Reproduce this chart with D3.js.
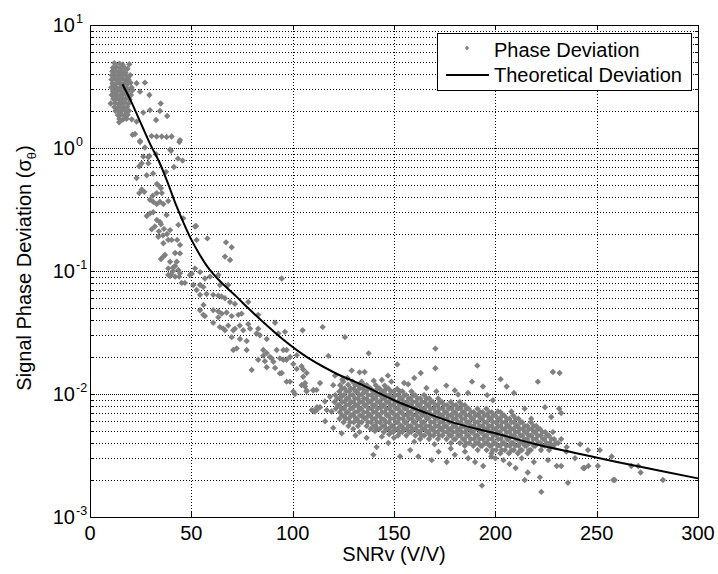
<!DOCTYPE html>
<html>
<head>
<meta charset="utf-8">
<script src="https://cdn.jsdelivr.net/npm/d3@7"></script>
<style>
body { margin: 0; background: #fff; }
text { font-family: "Liberation Sans", Arial, sans-serif; fill: #000; }
</style>
</head>
<body>
<script>

// ---- data ----
const snrTicks = [0, 50, 100, 150, 200, 250, 300];
const sigmaDecades = [1e-3, 1e-2, 1e-1, 1, 10];
const decadeExponents = ["-3", "-2", "-1", "0", "1"];

// theoretical curve
const theorySnr = [16, 20, 23, 26, 30, 34, 38, 42, 46, 50, 54, 58, 62, 67, 72, 78, 85, 95, 105, 120, 135, 150, 165, 180, 200, 220, 240, 260, 280, 300];
const theorySigma = [3.3, 2.45, 1.9, 1.47, 1.05, 0.78, 0.54, 0.36, 0.25, 0.18, 0.137, 0.108, 0.090, 0.0745, 0.0625, 0.050, 0.039, 0.028, 0.021, 0.0151, 0.0117, 0.0089, 0.0071, 0.0058, 0.0048, 0.0039, 0.0033, 0.0028, 0.0024, 0.00206];

// measured phase deviation: [SNRv, sigma]
// low-SNR clump
const headPoints = [
  [12.0,4.9],[14.6,4.85],[16.1,4.75],[19.4,4.8],
  [11.3,4.5],[13.1,4.55],[15.2,4.45],[17.0,4.5],[18.5,4.4],
  [11.0,4.2],[12.6,4.25],[14.1,4.15],[15.8,4.2],[17.5,4.1],
  [10.8,3.9],[12.2,3.95],[13.7,3.85],[15.0,3.9],[16.4,3.95],[18.0,3.85],[19.8,3.9],
  [10.6,3.6],[12.0,3.65],[13.5,3.55],[14.9,3.6],[16.2,3.65],[17.6,3.55],[19.0,3.6],
  [11.1,3.35],[12.6,3.3],[14.2,3.4],[15.6,3.3],[17.0,3.35],[18.5,3.3],[20.0,3.4],
  [10.5,3.1],[12.0,3.15],[13.4,3.05],[14.8,3.1],[16.4,3.15],[18.2,3.05],[20.5,3.1],
  [11.2,2.9],[12.8,2.85],[14.1,2.95],[15.5,2.9],[17.0,2.85],[18.8,2.9],[21.0,2.95],
  [10.7,2.7],[12.1,2.72],[13.6,2.66],[15.0,2.7],[16.6,2.74],[18.5,2.68],[20.2,2.7],
  [11.5,2.5],[13.0,2.52],[14.5,2.46],[16.0,2.5],[17.8,2.54],[19.5,2.48],
  [10.2,2.3],[12.4,2.32],[14.0,2.28],[15.5,2.3],[17.2,2.34],[19.0,2.3],
  [12.0,2.15],[13.5,2.12],[15.0,2.17],[16.6,2.14],[18.3,2.16],
  [12.6,2.0],[14.2,1.98],[15.8,2.02],[17.5,1.99],[19.2,2.01],
  [13.8,1.85],[15.4,1.87],[17.0,1.84],[18.6,1.86],
  [14.5,1.72],[16.2,1.7],[18.0,1.73],[14.4,1.62]
];

// falling tail between the clump and the dense cloud
const tailPoints = [
  [23,3.36],[27.1,3.4],[24.7,2.87],[29.3,2.7],[34.9,2.3],[34.5,2.0],[38.1,1.82],[29.6,2.03],[26.3,1.94],[32.6,1.69],
  [20.6,1.71],[23,1.64],[21,1.28],[22.2,1.3],[24.7,1.14],[30.4,1.25],[32.9,1.24],[35.4,1.24],[37.8,1.23],[40.3,1.24],
  [44.4,1.16],[27.1,1.01],[39.5,0.97],[28.8,0.84],[32.6,0.89],[43.4,0.82],[45.7,0.79],[28.8,0.75],[26.3,0.85],[24.7,1.12],
  [44.1,1.12],[29.3,0.86],[40,0.95],[25.5,0.75],[24.3,0.71],[37.5,0.64],[41.4,0.70],[28,0.6],[31.1,0.62],[23,0.57],
  [34.2,0.49],[33,0.51],[35,0.47],[25.5,0.46],[24.3,0.43],[26.8,0.44],[30.9,0.41],[32.9,0.43],[35.4,0.43],[29.6,0.38],
  [31.2,0.366],[34.5,0.366],[36.2,0.35],[32.9,0.35],[38.6,0.37],[29.6,0.294],[28,0.28],[31.2,0.3],[37.8,0.285],[33,0.26],
  [34.5,0.25],[35,0.24],[36.5,0.22],[34,0.21],[32,0.23],[30.4,0.218],[38,0.2],[39.5,0.215],[33.7,0.19],[36,0.195],
  [43.6,0.237],[46,0.268],[51.8,0.23],[52.3,0.232],[40.3,0.179],[38.6,0.179],[43,0.179],[52.6,0.179],[36.2,0.168],[44.4,0.163],
  [42,0.14],[44.4,0.139],[37,0.135],[36.2,0.131],[39.5,0.119],[42.8,0.119],[35,0.125],[42,0.11],[38.6,0.105],[41,0.107],
  [43.6,0.102],[41,0.1],[44.4,0.096],[44,0.09],[38.6,0.093],[40,0.094],[49.3,0.093],[51.8,0.105],[57.9,0.184],[67.1,0.171],
  [69.9,0.156],[66.6,0.131],[69.1,0.123],[59.2,0.09],[63.3,0.093],[64.1,0.077],[54.3,0.077],[94.6,0.087],
  [39.5,0.091],[42,0.090],[45.2,0.080],[46.8,0.080],[50.2,0.095],[54.3,0.098],[56.7,0.087],[51,0.077],[52.6,0.070],[54.3,0.064],
  [57.5,0.065],[55.9,0.074],[60.8,0.064],[63.3,0.063],[64.9,0.062],[66.6,0.060],[68.2,0.077],[69.1,0.056],[71.5,0.054],[78.1,0.056],
  [54.3,0.048],[56,0.053],[56.7,0.043],[55.9,0.044],[60.8,0.048],[63.3,0.047],[63.3,0.042],[65,0.045],[67.4,0.046],[69.9,0.043],
  [73.2,0.044],[74.8,0.045],[60.8,0.038],[64.1,0.035],[65.8,0.034],[66.6,0.033],[68.2,0.036],[69.9,0.029],[70.7,0.033],[71.5,0.034],
  [73.9,0.036],[74,0.028],[75.6,0.033],[78.1,0.037],[79,0.034],[83,0.044],[83,0.034],[82.2,0.031],[83.8,0.030],[87.2,0.028],
  [91.3,0.038],[92.9,0.031],[96.2,0.032],[77.3,0.027],[72.4,0.0235],[70.7,0.0228],[77.3,0.0228],[85.5,0.0228],[85.5,0.0205],[87.2,0.0215],
  [88.8,0.020],[92.1,0.0228],[95.4,0.0228],[97,0.0228],[83,0.019],[86.3,0.0185],[89.6,0.0195],[90.5,0.0183],[93.7,0.0195],[97,0.019],
  [98.7,0.020],[102,0.0207],[79.8,0.0157],[87.2,0.0165],[91.3,0.0163],[94.6,0.0148],[93.7,0.0147],[95.4,0.0190],[100.3,0.0175],[102,0.016],
  [104.4,0.0168],[105.2,0.0158],[106.9,0.0148],[106.1,0.0115],[98.7,0.0126],[97,0.0126],[100.3,0.0105],[101.1,0.0100],[104.4,0.0118],[106.9,0.0105],
  [110.2,0.0108],[111.8,0.0108],[109.4,0.0074],[111.8,0.0074],[113.5,0.0078],[110.2,0.0073],[112,0.0078],[120,0.0118],[125,0.0126]
];

// dense cloud at high SNR
const cloudPoints = [
  [121.0,.0098],[120.6,.0086],[121.3,.0076],
  [123.4,.0118],[123.0,.0105],[123.5,.0093],[122.9,.0081],[123.3,.0071],[123.1,.0063],
  [125.6,.0111],[125.2,.0098],[125.7,.0087],[125.3,.0076],[125.5,.0066],[125.1,.0059],
  [127.4,.0119],[127.9,.0105],[127.5,.0092],[127.8,.0082],[127.3,.0071],[127.7,.0063],[127.5,.0055],
  [129.6,.0126],[130.1,.0110],[129.7,.0098],[130.0,.0086],[129.5,.0077],[129.9,.0067],[130.2,.0059],
  [132.2,.0118],[131.8,.0104],[132.3,.0092],[131.9,.0081],[132.1,.0072],[131.7,.0063],[132.2,.0055],
  [134.0,.0126],[134.5,.0111],[134.1,.0099],[134.4,.0086],[133.9,.0076],[134.3,.0066],[134.0,.0059],
  [136.6,.0118],[136.2,.0105],[136.5,.0091],[136.1,.0081],[136.7,.0071],[136.3,.0064],[136.5,.0055],
  [138.4,.0111],[138.8,.0098],[138.5,.0087],[138.9,.0076],[138.3,.0067],[138.7,.0059],[138.5,.0052],
  [141.0,.0118],[140.6,.0104],[140.9,.0092],[140.5,.0081],[141.1,.0071],[140.7,.0063],[140.9,.0055],[140.6,.0050],
  [142.8,.0111],[143.2,.0098],[142.9,.0086],[143.3,.0077],[142.7,.0067],[143.1,.0059],[142.9,.0052],
  [145.4,.0117],[145.0,.0105],[145.3,.0092],[144.9,.0081],[145.5,.0071],[145.1,.0062],[145.3,.0055],[145.0,.0049],
  [147.2,.0111],[147.6,.0098],[147.3,.0086],[147.7,.0076],[147.1,.0067],[147.5,.0059],[147.3,.0052],[147.6,.0047],
  [149.8,.0105],[149.4,.0093],[149.7,.0081],[149.3,.0071],[149.9,.0063],[149.5,.0055],[149.7,.0049],
  [151.6,.0110],[152.0,.0098],[151.7,.0086],[152.1,.0076],[151.5,.0067],[151.9,.0059],[151.7,.0052],[152.0,.0046],
  [154.2,.0105],[153.8,.0092],[154.1,.0081],[153.7,.0071],[154.3,.0063],[153.9,.0055],[154.1,.0049],
  [156.0,.0098],[156.4,.0086],[156.1,.0076],[156.5,.0067],[155.9,.0059],[156.3,.0052],[156.1,.0046],
  [158.6,.0105],[158.2,.0092],[158.5,.0081],[158.1,.0071],[158.7,.0063],[158.3,.0055],[158.5,.0049],
  [160.4,.0098],[160.8,.0086],[160.5,.0076],[160.9,.0067],[160.3,.0059],[160.7,.0052],[160.5,.0046],
  [163.0,.0092],[162.6,.0081],[162.9,.0071],[162.5,.0063],[163.1,.0055],[162.7,.0049],[162.9,.0043],
  [164.8,.0098],[165.2,.0086],[164.9,.0076],[165.3,.0067],[164.7,.0059],[165.1,.0052],[164.9,.0046],
  [167.4,.0092],[167.0,.0081],[167.3,.0071],[166.9,.0063],[167.5,.0055],[167.1,.0049],[167.3,.0043],
  [169.2,.0086],[169.6,.0076],[169.3,.0067],[169.7,.0059],[169.1,.0052],[169.5,.0046],
  [171.8,.0092],[171.4,.0081],[171.7,.0071],[171.3,.0063],[171.9,.0055],[171.5,.0049],[171.7,.0043],
  [173.6,.0086],[174.0,.0076],[173.7,.0067],[174.1,.0059],[173.5,.0052],[173.9,.0046],
  [176.2,.0081],[175.8,.0071],[176.1,.0063],[175.7,.0055],[176.3,.0049],[175.9,.0043],
  [178.0,.0086],[178.4,.0076],[178.1,.0067],[178.5,.0059],[177.9,.0052],[178.3,.0046],[178.1,.0040],
  [180.6,.0081],[180.2,.0071],[180.5,.0063],[180.1,.0055],[180.7,.0049],[180.3,.0043],
  [182.4,.0086],[182.8,.0076],[182.5,.0067],[182.9,.0059],[182.3,.0052],[182.7,.0046],[182.5,.0040],
  [185.0,.0081],[184.6,.0071],[184.9,.0063],[184.5,.0055],[185.1,.0049],[184.7,.0043],[184.9,.0038],
  [186.8,.0076],[187.2,.0067],[186.9,.0059],[187.3,.0052],[186.7,.0046],[187.1,.0040],
  [189.4,.0071],[189.0,.0063],[189.3,.0055],[188.9,.0049],[189.5,.0043],[189.1,.0038],
  [191.2,.0076],[191.6,.0067],[191.3,.0059],[191.7,.0052],[191.1,.0046],[191.5,.0040],[191.3,.0035],
  [193.8,.0071],[193.4,.0063],[193.7,.0055],[193.3,.0049],[193.9,.0043],[193.5,.0038],
  [195.6,.0076],[196.0,.0067],[195.7,.0059],[196.1,.0052],[195.5,.0046],[195.9,.0040],[195.7,.0035],
  [198.2,.0071],[197.8,.0063],[198.1,.0055],[197.7,.0049],[198.3,.0043],[197.9,.0038],[198.1,.0033],
  [200.0,.0067],[200.4,.0059],[200.1,.0052],[200.5,.0046],[199.9,.0040],[200.3,.0035],
  [202.6,.0071],[202.2,.0063],[202.5,.0055],[202.1,.0049],[202.7,.0043],[202.3,.0038],[202.5,.0033],
  [204.4,.0067],[204.8,.0059],[204.5,.0052],[204.9,.0046],[204.3,.0040],[204.7,.0035],
  [207.0,.0063],[206.6,.0055],[206.9,.0049],[206.5,.0043],[207.1,.0038],[206.7,.0033],
  [208.8,.0067],[209.2,.0059],[208.9,.0052],[209.3,.0046],[208.7,.0040],[209.1,.0035],
  [211.4,.0063],[211.0,.0055],[211.3,.0049],[210.9,.0043],[211.5,.0038],[211.1,.0033],
  [213.2,.0059],[213.6,.0052],[213.3,.0046],[213.7,.0040],[213.1,.0035],
  [215.8,.0055],[215.4,.0049],[215.7,.0043],[215.3,.0038],[215.9,.0033],
  [217.6,.0059],[218.0,.0052],[217.7,.0046],[218.1,.0040],[217.5,.0035],
  [220.2,.0055],[219.8,.0049],[220.1,.0043],[219.7,.0038],
  [222.0,.0052],[222.4,.0046],[222.1,.0040],[222.5,.0035],
  [224.6,.0049],[224.2,.0043],[224.5,.0038],
  [226.4,.0046],[226.8,.0040],[226.5,.0035],
  [229.0,.0043],[228.6,.0038],
  [231.0,.0040]
];

// more cloud points, sitting between the ones above
const cloudFill = [
  [122.1,.0092],[122.3,.0081],
  [124.3,.0111],[124.1,.0098],[124.4,.0086],[124.2,.0076],[124.5,.0067],
  [126.5,.0105],[126.7,.0092],[126.4,.0081],[126.6,.0071],[126.3,.0063],
  [128.7,.0111],[128.5,.0098],[128.8,.0086],[128.6,.0076],[128.9,.0067],[128.4,.0059],
  [130.9,.0118],[131.1,.0105],[130.8,.0092],[131.0,.0081],[130.7,.0071],[131.2,.0063],
  [133.1,.0111],[132.9,.0098],[133.2,.0086],[133.0,.0076],[133.3,.0067],[132.8,.0059],
  [135.3,.0118],[135.5,.0105],[135.2,.0092],[135.4,.0081],[135.1,.0071],[135.6,.0063],
  [137.5,.0111],[137.3,.0098],[137.6,.0086],[137.4,.0076],[137.7,.0067],[137.2,.0059],
  [139.7,.0105],[139.9,.0092],[139.6,.0081],[139.8,.0071],[139.5,.0063],[140.0,.0055],
  [141.9,.0111],[141.7,.0098],[142.0,.0086],[141.8,.0076],[142.1,.0067],[141.6,.0059],[141.9,.0052],
  [144.1,.0105],[144.3,.0092],[144.0,.0081],[144.2,.0071],[143.9,.0063],[144.4,.0055],
  [146.3,.0111],[146.1,.0098],[146.4,.0086],[146.2,.0076],[146.5,.0067],[146.0,.0059],[146.3,.0052],
  [148.5,.0105],[148.7,.0092],[148.4,.0081],[148.6,.0071],[148.3,.0063],[148.8,.0055],[148.5,.0049],
  [150.7,.0098],[150.5,.0086],[150.8,.0076],[150.6,.0067],[150.9,.0059],[150.4,.0052],
  [152.9,.0105],[153.1,.0092],[152.8,.0081],[153.0,.0071],[152.7,.0063],[153.2,.0055],[152.9,.0049],
  [155.1,.0098],[154.9,.0086],[155.2,.0076],[155.0,.0067],[155.3,.0059],[154.8,.0052],
  [157.3,.0092],[157.5,.0081],[157.2,.0071],[157.4,.0063],[157.1,.0055],[157.6,.0049],
  [159.5,.0098],[159.3,.0086],[159.6,.0076],[159.4,.0067],[159.7,.0059],[159.2,.0052],
  [161.7,.0092],[161.9,.0081],[161.6,.0071],[161.8,.0063],[161.5,.0055],[162.0,.0049],
  [163.9,.0086],[163.7,.0076],[164.0,.0067],[163.8,.0059],[164.1,.0052],[163.6,.0046],
  [166.1,.0092],[166.3,.0081],[166.0,.0071],[166.2,.0063],[165.9,.0055],[166.4,.0049],
  [168.3,.0086],[168.1,.0076],[168.4,.0067],[168.2,.0059],[168.5,.0052],[168.0,.0046],
  [170.5,.0081],[170.7,.0071],[170.4,.0063],[170.6,.0055],[170.3,.0049],
  [172.7,.0086],[172.5,.0076],[172.8,.0067],[172.6,.0059],[172.9,.0052],[172.4,.0046],
  [174.9,.0081],[175.1,.0071],[174.8,.0063],[175.0,.0055],[174.7,.0049],
  [177.1,.0076],[176.9,.0067],[177.2,.0059],[177.0,.0052],[177.3,.0046],
  [179.3,.0081],[179.5,.0071],[179.2,.0063],[179.4,.0055],[179.1,.0049],[179.6,.0043],
  [181.5,.0076],[181.3,.0067],[181.6,.0059],[181.4,.0052],[181.7,.0046],
  [183.7,.0081],[183.9,.0071],[183.6,.0063],[183.8,.0055],[183.5,.0049],[184.0,.0043],
  [185.9,.0076],[185.7,.0067],[186.0,.0059],[185.8,.0052],[186.1,.0046],[185.6,.0040],
  [188.1,.0071],[188.3,.0063],[188.0,.0055],[188.2,.0049],[187.9,.0043],
  [190.3,.0067],[190.1,.0059],[190.4,.0052],[190.2,.0046],[190.5,.0040],
  [192.5,.0071],[192.7,.0063],[192.4,.0055],[192.6,.0049],[192.3,.0043],[192.8,.0038],
  [194.7,.0067],[194.5,.0059],[194.8,.0052],[194.6,.0046],[194.9,.0040],
  [196.9,.0071],[197.1,.0063],[196.8,.0055],[197.0,.0049],[196.7,.0043],[197.2,.0038],
  [199.1,.0067],[198.9,.0059],[199.2,.0052],[199.0,.0046],[199.3,.0040],[198.8,.0035],
  [201.3,.0063],[201.5,.0055],[201.2,.0049],[201.4,.0043],[201.1,.0038],
  [203.5,.0067],[203.3,.0059],[203.6,.0052],[203.4,.0046],[203.7,.0040],[203.2,.0035],
  [205.7,.0063],[205.9,.0055],[205.6,.0049],[205.8,.0043],[205.5,.0038],
  [207.9,.0059],[207.7,.0052],[208.0,.0046],[207.8,.0040],[208.1,.0035],
  [210.1,.0063],[210.3,.0055],[210.0,.0049],[210.2,.0043],[209.9,.0038],
  [212.3,.0059],[212.1,.0052],[212.4,.0046],[212.2,.0040],[212.5,.0035],
  [214.5,.0055],[214.7,.0049],[214.4,.0043],[214.6,.0038],
  [216.7,.0052],[216.5,.0046],[216.8,.0040],[216.6,.0035],
  [218.9,.0055],[219.1,.0049],[218.8,.0043],[219.0,.0038],
  [221.1,.0052],[220.9,.0046],[221.2,.0040],
  [223.3,.0049],[223.5,.0043],[223.2,.0038],
  [225.5,.0046],[225.3,.0040],
  [227.7,.0043],[227.9,.0038],
  [229.9,.0040]
];

// scattered points around the cloud
const strayPoints = [
  [117.6,.0204],[137.5,.0214],[170.4,.0234],[170.4,.0162],[151.6,.0174],[163.2,.0148],[191.1,.0170],[188.5,.0126],[193.9,.0115],[202.6,.0132],
  [209.2,.0102],[221,.0126],[228.4,.0151],[231.7,.0148],[135.5,.0151],[147,.0141],[155,.0123],[157,.0120],[160,.0135],[175.8,.0117],
  [129.1,.0155],[133,.0150],[125.8,.029],[104.9,.033],[114.8,.035],[205.6,.0115],[224.5,.0078],[231.5,.0076],[227.6,.0065],[217.7,.0063],
  [148.7,.0126],[170.9,.0105],[181.6,.0099],[186.5,.0102],[198.8,.0089],[201.3,.0072],[207.9,.0072],[214.5,.0076],[105.2,.0138],[106.1,.0123],
  [106.9,.0107],[110.2,.0107],[113.5,.0123],[120.9,.0141],[118.4,.0095],[115.9,.0087],[116.8,.0074],[119.2,.0072],[111,.0072],[124.5,.0131],
  [127,.0135],[140,.0128],[144,.0130],[166,.0112],[180,.0107],[196,.0098],[232.5,.0070],
  [124.2,.0048],[129.9,.0052],[133,.0049],[136.5,.0044],[141.4,.0037],[139.8,.0032],[147.2,.0040],[153,.0031],[158,.0035],[162,.0031],
  [168.6,.0029],[176,.0028],[172,.0034],[180,.0032],[186.6,.0030],[190,.0028],[194,.0026],[193.4,.0018],[222.7,.0016],[235.8,.0019],
  [258.9,.0020],[282.7,.0020],[214.5,.0020],[216,.0023],[210,.0025],[207,.0027],[222,.0021],[230.3,.0026],[239.3,.0030],[243.4,.0025],
  [245.9,.0026],[235.2,.0037],[241.8,.0039],[251.6,.0035],[257.4,.0031],[258.2,.0020],[270.5,.0026],[250.6,.0026],[267.1,.0026],[271.7,.0023],
  [245.7,.0035],[226,.0029],[219,.0028],[213,.0030],[200,.0030],[204,.0029],[198,.0031],[226.8,.0039],[228.4,.0049],[232.5,.0043],
  [235,.0034],[232.5,.0026],[244,.0025],[150,.0044],[160,.0041],[170,.0039],[178,.0036],[185,.0034],[144,.0045],[131,.0046],
  [120,.0053],[116,.0060]
];

const phasePoints = headPoints.concat(tailPoints, cloudPoints, cloudFill, strayPoints);
const theory = theorySnr.map((s, i) => ({snr: s, sigma: theorySigma[i]}));

// ---- layout ----
const outerWidth = 718;
const outerHeight = 574;
const margin = {top: 25, right: 20, bottom: 57, left: 90};
const width = outerWidth - margin.left - margin.right;
const height = outerHeight - margin.top - margin.bottom;

const svg = d3.select("body").append("svg")
    .attr("width", outerWidth)
    .attr("height", outerHeight);

const g = svg.append("g")
    .attr("transform", `translate(${margin.left},${margin.top})`);

const xScale = d3.scaleLinear().domain([0, 300]).range([0, width]);
const yScale = d3.scaleLog().domain([1e-3, 10]).range([height, 0]);

const yAll = yScale.ticks();   // 1..9 per decade
const isDecade = d => sigmaDecades.some(v => Math.abs(v - d) / v < 1e-6);

// grid (dotted, MATLAB style)
const grid = g.append("g").attr("stroke", "#000").attr("stroke-width", 1);
grid.selectAll(".yg").data(yAll.filter(d => !isDecade(d))).join("line")
    .attr("stroke-dasharray", "1,2")
    .attr("x1", 0).attr("x2", width)
    .attr("y1", d => Math.round(yScale(d)) + 0.5)
    .attr("y2", d => Math.round(yScale(d)) + 0.5);
// decades: major and minor grid overlap, so the dots are denser
grid.selectAll(".yd").data(sigmaDecades.slice(1, -1)).join("line")
    .attr("stroke-dasharray", "1,1")
    .attr("x1", 0).attr("x2", width)
    .attr("y1", d => Math.round(yScale(d)) + 0.5)
    .attr("y2", d => Math.round(yScale(d)) + 0.5);
grid.selectAll(".xg").data(snrTicks.slice(1, -1)).join("line")
    .attr("stroke-dasharray", "1,2")
    .attr("y1", 0).attr("y2", height)
    .attr("x1", d => Math.round(xScale(d)) + 0.5)
    .attr("x2", d => Math.round(xScale(d)) + 0.5);

// scatter
const diamond = d3.symbol().type(d3.symbolDiamond2).size(26);
g.append("g").attr("fill", "#808080")
  .selectAll("path").data(phasePoints).join("path")
    .attr("transform", d => `translate(${xScale(d[0])},${yScale(d[1])})`)
    .attr("d", diamond);

// theoretical line
const line = d3.line()
    .x(d => xScale(d.snr))
    .y(d => yScale(d.sigma))
    .curve(d3.curveMonotoneX);
g.append("path")
    .datum(theory)
    .attr("fill", "none")
    .attr("stroke", "#000")
    .attr("stroke-width", 2)
    .attr("d", line);

// frame
g.append("rect")
    .attr("x", 0.5).attr("y", 0.5)
    .attr("width", width).attr("height", height)
    .attr("fill", "none").attr("stroke", "#000");

// ticks (inward) on all four sides
const tk = g.append("g").attr("stroke", "#000");
snrTicks.forEach(v => {
  const x = Math.round(xScale(v)) + 0.5;
  tk.append("line").attr("x1", x).attr("x2", x).attr("y1", height).attr("y2", height - 5);
  tk.append("line").attr("x1", x).attr("x2", x).attr("y1", 0).attr("y2", 5);
});
yAll.forEach(v => {
  const y = Math.round(yScale(v)) + 0.5;
  const len = isDecade(v) ? 5 : 3;
  tk.append("line").attr("x1", 0).attr("x2", len).attr("y1", y).attr("y2", y);
  tk.append("line").attr("x1", width).attr("x2", width - len).attr("y1", y).attr("y2", y);
});

// x tick labels
g.append("g").selectAll("text").data(snrTicks).join("text")
    .attr("x", d => xScale(d))
    .attr("y", height + 23)
    .attr("text-anchor", "middle")
    .style("font-size", "20px")
    .text(d => d);

// y tick labels: 10 with superscript exponent
const yl = g.append("g").selectAll("g").data(sigmaDecades).join("g")
    .attr("transform", d => `translate(0,${yScale(d)})`);
yl.append("text")
    .attr("x", -15).attr("y", 7)
    .attr("text-anchor", "end")
    .style("font-size", "20px")
    .text("10");
yl.append("text")
    .attr("x", -14).attr("y", -2)
    .style("font-size", "12.5px")
    .text((d, i) => decadeExponents[i]);

// axis titles
svg.append("text")
    .attr("x", margin.left + width / 2)
    .attr("y", 561)
    .attr("text-anchor", "middle")
    .style("font-size", "20px")
    .text("SNRv (V/V)");

const yt = svg.append("text")
    .attr("transform", "translate(31,268) rotate(-90)")
    .attr("text-anchor", "middle")
    .style("font-size", "20px");
yt.append("tspan").text("Signal Phase Deviation (σ");
yt.append("tspan").attr("dy", 5).style("font-size", "13px").text("θ");
yt.append("tspan").attr("dy", -5).text(")");

// legend
const lg = svg.append("g");
lg.append("rect")
    .attr("x", 437.5).attr("y", 33.5)
    .attr("width", 254).attr("height", 57)
    .attr("fill", "#fff").attr("stroke", "#000");
lg.append("path")
    .attr("transform", "translate(467,48)")
    .attr("d", d3.symbol().type(d3.symbolDiamond2).size(12))
    .attr("fill", "#808080");
lg.append("line")
    .attr("x1", 446).attr("x2", 489)
    .attr("y1", 75).attr("y2", 75)
    .attr("stroke", "#000").attr("stroke-width", 2);
lg.append("text").attr("x", 494).attr("y", 57).style("font-size", "20px").text("Phase Deviation");
lg.append("text").attr("x", 494).attr("y", 82).style("font-size", "20px").text("Theoretical Deviation");

</script>
</body>
</html>
